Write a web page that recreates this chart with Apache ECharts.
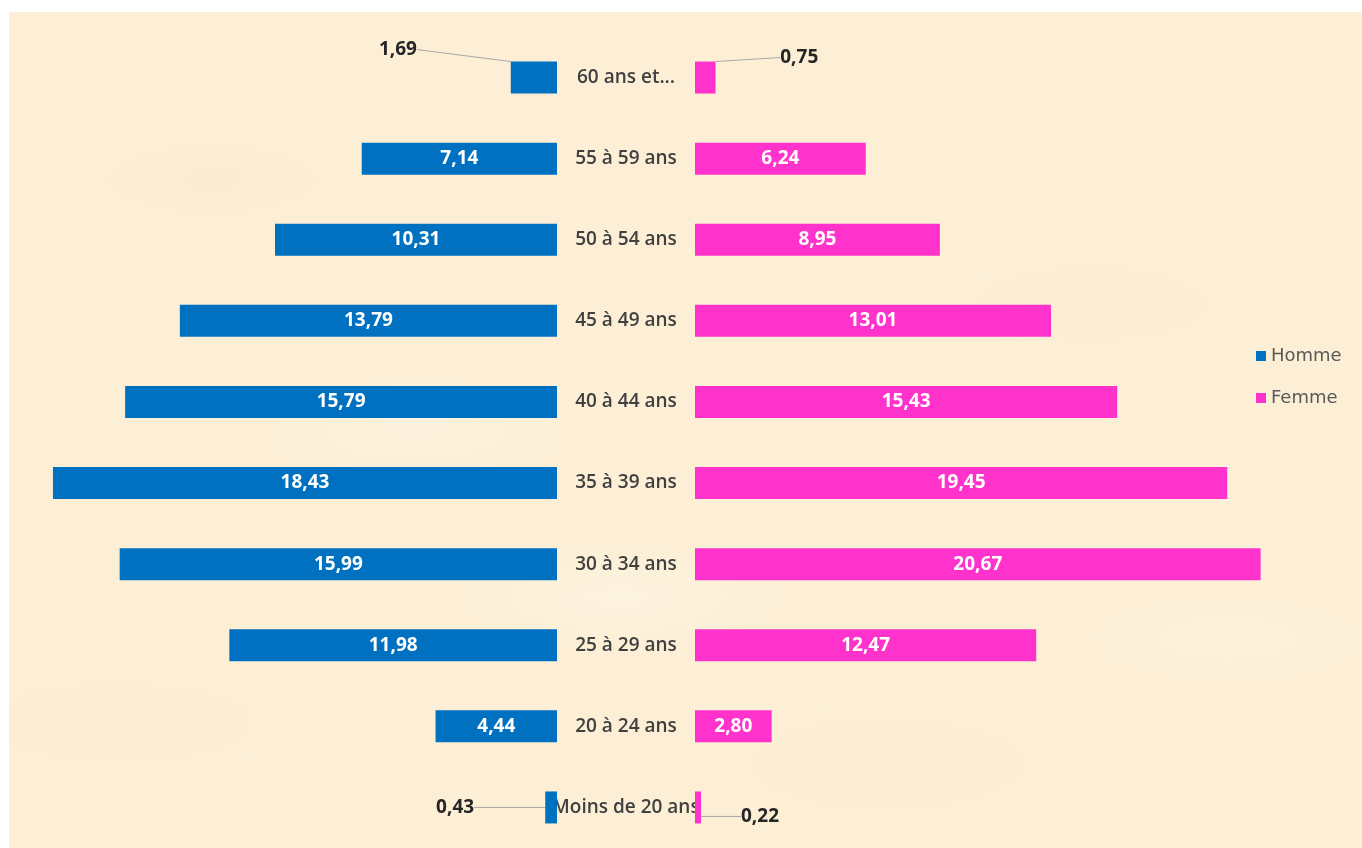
<!DOCTYPE html>
<html>
<head>
<meta charset="utf-8">
<script src="https://cdn.jsdelivr.net/npm/echarts@6/dist/echarts.min.js"></script>
<style>
  html, body { margin: 0; padding: 0; background: #fff; }
  #wrap { position: relative; width: 1362px; height: 848px; overflow: hidden; }
  #paper {
    position: absolute; left: 9px; top: 12px; right: 0; bottom: 0;
    background-color: #fcefd6;
    background-image:
      radial-gradient(ellipse 120px 40px at 15% 20%, rgba(245,230,200,0.35), transparent),
      radial-gradient(ellipse 160px 50px at 45% 70%, rgba(255,248,232,0.5), transparent),
      radial-gradient(ellipse 140px 45px at 80% 35%, rgba(246,232,204,0.35), transparent),
      radial-gradient(ellipse 180px 60px at 65% 90%, rgba(247,233,205,0.3), transparent),
      radial-gradient(ellipse 150px 50px at 30% 50%, rgba(255,247,230,0.45), transparent),
      radial-gradient(ellipse 130px 40px at 90% 75%, rgba(255,246,228,0.45), transparent),
      radial-gradient(ellipse 170px 50px at 8% 85%, rgba(246,232,204,0.3), transparent);
  }
  #chart { position: absolute; left: 0; top: 0; width: 1362px; height: 848px; }
</style>
</head>
<body>
<div id="wrap">
  <div id="paper"></div>
  <div id="chart"></div>
</div>
<script>
// tranches d'âge, du haut vers le bas
const categories = ['60 ans et...', '55 à 59 ans', '50 à 54 ans', '45 à 49 ans', '40 à 44 ans',
  '35 à 39 ans', '30 à 34 ans', '25 à 29 ans', '20 à 24 ans', 'Moins de 20 ans']
const homme = [1.69, 7.14, 10.31, 13.79, 15.79, 18.43, 15.99, 11.98, 4.44, 0.43]
const femme = [0.75, 6.24, 8.95, 13.01, 15.43, 19.45, 20.67, 12.47, 2.80, 0.22]

const BLUE = '#0070c0'
const PINK = '#ff33cc'

// décalage des étiquettes sorties des petites barres
const hommeOut = { 0: [-136, -28], 9: [-96, 0] }
const femmeOut = { 0: [94, -20], 9: [62, 9] }

const fmt = (p) => p.value.toFixed(2).replace('.', ',')

const buildData = (values, outside) => values.map((v, i) => {
  if (!outside[i]) return v
  return {
    value: v,
    label: { color: '#262626' },
    labelLine: { show: true, lineStyle: { color: '#a6a6a6', width: 1 } }
  }
})

const chart = echarts.init(document.getElementById('chart'))

const option = {
  animation: false,
  textStyle: { fontFamily: 'Open Sans' },
  legend: {
    orient: 'vertical',
    left: 1251,
    top: 342,
    itemWidth: 10,
    itemHeight: 10,
    itemGap: 24,
    icon: 'rect',
    textStyle: { fontFamily: 'DejaVu Sans', fontSize: 18, color: '#595959' },
    data: ['Homme', 'Femme']
  },
  grid: [
    { left: 10, width: 547, top: 37, height: 811 },
    { left: 695, width: 602, top: 37, height: 811 }
  ],
  xAxis: [
    { gridIndex: 0, type: 'value', min: 0, max: 20, inverse: true, show: false },
    { gridIndex: 1, type: 'value', min: 0, max: 22, show: false }
  ],
  yAxis: [
    {
      gridIndex: 0, type: 'category', data: categories, inverse: true, position: 'right',
      axisLine: { show: false }, axisTick: { show: false },
      axisLabel: {
        margin: 69, align: 'center', color: '#404040',
        fontSize: 19, fontWeight: 600, fontFamily: 'Open Sans'
      }
    },
    {
      gridIndex: 1, type: 'category', data: categories, inverse: true,
      axisLine: { show: false }, axisTick: { show: false }, axisLabel: { show: false }
    }
  ],
  series: [
    {
      name: 'Homme', type: 'bar', xAxisIndex: 0, yAxisIndex: 0,
      barWidth: 32, itemStyle: { color: BLUE },
      data: buildData(homme, hommeOut),
      label: {
        show: true, position: 'inside', formatter: fmt, color: '#fff',
        fontSize: 19, fontWeight: 'bold', fontFamily: 'Open Sans'
      },
      labelLayout: (p) => hommeOut[p.dataIndex]
        ? { dx: hommeOut[p.dataIndex][0], dy: hommeOut[p.dataIndex][1] } : {}
    },
    {
      name: 'Femme', type: 'bar', xAxisIndex: 1, yAxisIndex: 1,
      barWidth: 32, itemStyle: { color: PINK },
      data: buildData(femme, femmeOut),
      label: {
        show: true, position: 'inside', formatter: fmt, color: '#fff',
        fontSize: 19, fontWeight: 'bold', fontFamily: 'Open Sans'
      },
      labelLayout: (p) => femmeOut[p.dataIndex]
        ? { dx: femmeOut[p.dataIndex][0], dy: femmeOut[p.dataIndex][1] } : {}
    }
  ]
}

chart.setOption(option)
</script>
</body>
</html>
